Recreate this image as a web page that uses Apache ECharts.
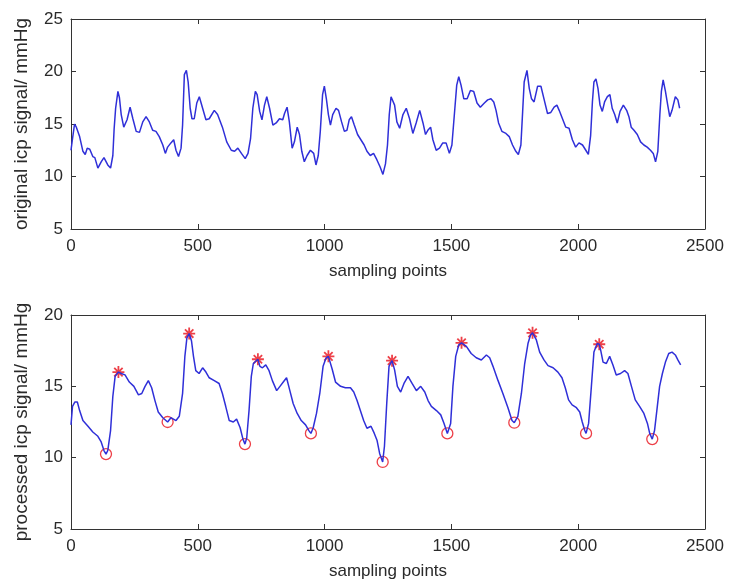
<!DOCTYPE html>
<html>
<head>
<meta charset="utf-8">
<script src="https://cdn.jsdelivr.net/npm/echarts@6/dist/echarts.min.js"></script>
<style>
  html, body { margin: 0; padding: 0; background: #fff; }
  #main { width: 729px; height: 587px; }
</style>
</head>
<body>
<div id="main"></div>
<script>
// original icp signal, [sampling point, mmHg]
var originalIcp = [
  [0,12.5],[6,13.6],[14,15.0],[21,14.7],[34,13.8],[47,12.4],[56,12.1],[64,12.7],[74,12.6],[86,11.9],
  [94,11.8],[106,10.8],[119,11.4],[130,11.8],[145,11.1],[156,10.8],[165,12.0],[170,14.5],[176,16.5],[185,18.1],
  [191,17.5],[198,15.9],[208,14.7],[221,15.4],[233,16.6],[244,15.5],[257,14.3],[270,14.2],[283,15.2],[296,15.7],
  [309,15.2],[322,14.4],[335,14.3],[348,13.8],[362,13.0],[372,12.2],[381,12.8],[394,13.2],[405,13.5],[414,12.5],
  [424,11.9],[434,12.7],[440,14.9],[447,19.7],[455,20.1],[462,19.0],[470,16.5],[477,15.5],[486,15.5],[496,17.0],
  [506,17.6],[519,16.5],[532,15.4],[545,15.5],[565,16.3],[578,15.9],[597,14.7],[614,13.3],[632,12.5],[645,12.4],
  [658,12.7],[672,12.2],[687,11.7],[698,12.2],[708,13.6],[717,16.5],[727,18.1],[734,17.8],[744,16.2],[753,15.4],
  [763,16.8],[772,17.6],[783,16.5],[796,14.9],[809,15.1],[822,15.5],[835,15.4],[842,16.0],[852,16.6],[861,15.2],
  [872,12.7],[881,13.3],[892,14.7],[901,14.0],[910,12.4],[920,11.4],[931,12.0],[944,12.5],[957,12.2],[966,11.1],
  [975,12.0],[983,14.3],[992,17.8],[999,18.6],[1007,17.4],[1015,15.9],[1023,14.9],[1032,15.9],[1045,16.5],[1055,16.3],
  [1067,15.2],[1078,14.3],[1088,14.4],[1097,15.4],[1106,15.7],[1117,14.9],[1130,14.0],[1143,13.5],[1156,13.0],[1167,12.4],
  [1180,12.0],[1193,12.2],[1206,11.6],[1219,10.9],[1230,10.2],[1240,11.2],[1248,13.0],[1255,15.9],[1262,17.6],[1268,17.6],
  [1276,16.8],[1285,15.2],[1296,14.6],[1309,15.9],[1322,16.5],[1335,15.5],[1348,14.1],[1361,15.1],[1375,16.3],[1388,15.1],
  [1398,14.0],[1407,14.4],[1418,14.7],[1427,13.5],[1440,12.5],[1453,12.7],[1466,13.2],[1479,13.2],[1492,12.2],[1502,13.0],
  [1512,16.0],[1521,18.7],[1529,19.5],[1538,18.7],[1549,17.4],[1562,17.4],[1575,18.2],[1588,18.1],[1601,17.0],[1614,16.6],
  [1630,17.0],[1643,17.3],[1656,17.4],[1667,17.1],[1676,16.3],[1686,15.1],[1699,14.3],[1715,14.1],[1728,13.8],[1741,13.0],
  [1754,12.4],[1764,12.1],[1774,13.0],[1781,16.2],[1787,19.0],[1798,20.1],[1807,18.4],[1816,17.4],[1826,17.1],[1840,18.6],
  [1853,18.6],[1866,17.3],[1879,16.0],[1892,16.1],[1905,16.6],[1916,16.8],[1925,16.3],[1938,15.5],[1951,14.7],[1964,14.6],
  [1977,13.5],[1990,12.8],[2003,13.2],[2017,13.0],[2030,12.5],[2040,12.1],[2049,13.9],[2056,17.1],[2062,19.0],[2070,19.3],
  [2078,18.4],[2086,16.8],[2095,16.2],[2104,17.1],[2115,17.6],[2125,17.8],[2134,16.5],[2144,15.9],[2154,15.1],[2165,16.2],
  [2178,16.8],[2191,16.3],[2200,15.7],[2209,14.7],[2220,14.4],[2233,14.0],[2246,13.3],[2259,13.0],[2272,12.8],[2285,12.5],
  [2296,12.2],[2305,11.4],[2314,12.4],[2322,15.9],[2328,18.1],[2335,19.2],[2344,18.1],[2353,16.8],[2361,15.7],[2370,16.3],
  [2383,17.6],[2393,17.3],[2400,16.5]
];

// processed (smoothed) icp signal, lower plot
var processedIcp = [
  [0,12.3],[6,13.6],[15,13.9],[25,13.9],[34,13.3],[47,12.6],[67,12.2],[86,11.8],[106,11.5],[119,11.1],
  [130,10.5],[138,10.25],[145,10.5],[156,11.9],[165,14.3],[174,15.7],[187,16.0],[198,15.9],[213,15.8],[230,15.3],
  [248,15.0],[266,14.4],[279,14.5],[292,15.0],[305,15.4],[318,14.9],[331,14.0],[344,13.2],[362,12.8],[381,12.5],
  [394,12.8],[414,12.6],[427,12.9],[440,14.5],[449,17.1],[457,18.4],[466,18.7],[475,18.2],[483,17.1],[492,16.1],
  [505,15.9],[519,16.3],[532,16.0],[545,15.6],[565,15.4],[584,15.2],[597,14.5],[610,13.6],[624,12.6],[640,12.5],
  [653,12.7],[667,12.1],[678,11.3],[686,10.95],[693,11.4],[702,13.3],[711,15.7],[719,16.6],[737,16.9],[745,16.4],
  [755,16.3],[768,16.5],[781,16.1],[794,15.4],[811,14.7],[824,15.0],[837,15.3],[850,15.6],[863,14.7],[876,13.8],
  [892,13.1],[908,12.6],[925,12.3],[938,11.9],[946,11.7],[955,12.1],[968,13.1],[981,14.5],[994,16.4],[1006,17.0],
  [1015,17.1],[1030,16.2],[1043,15.3],[1063,15.0],[1082,14.9],[1102,14.9],[1115,14.6],[1128,14.0],[1141,13.3],[1154,12.6],
  [1167,12.06],[1183,12.2],[1196,11.7],[1207,11.2],[1217,10.3],[1229,9.7],[1236,10.8],[1245,13.8],[1254,16.4],[1266,16.8],
  [1276,16.15],[1287,15.0],[1300,14.6],[1313,15.2],[1329,15.7],[1345,15.2],[1362,14.7],[1379,15.0],[1395,14.6],[1408,14.0],
  [1421,13.6],[1441,13.3],[1458,13.0],[1471,12.4],[1484,11.7],[1497,12.4],[1506,15.0],[1517,17.1],[1529,17.9],[1540,18.05],
  [1559,17.8],[1578,17.3],[1598,17.0],[1618,16.85],[1638,17.2],[1651,17.0],[1664,16.4],[1684,15.4],[1703,14.5],[1723,13.5],
  [1739,12.6],[1748,12.45],[1762,12.9],[1776,14.5],[1789,16.6],[1802,18.0],[1812,18.6],[1820,18.75],[1835,18.25],[1848,17.4],
  [1865,16.85],[1881,16.45],[1901,16.3],[1920,16.0],[1936,15.6],[1949,14.9],[1962,14.05],[1976,13.7],[1993,13.5],[2006,13.2],
  [2016,12.5],[2026,11.9],[2031,11.7],[2041,12.4],[2052,15.0],[2062,17.4],[2075,18.0],[2083,17.95],[2089,17.5],[2098,16.7],
  [2111,16.6],[2124,17.1],[2137,16.5],[2150,15.8],[2167,15.9],[2183,16.1],[2196,15.9],[2210,15.0],[2225,14.05],[2242,13.6],
  [2259,13.1],[2273,12.4],[2282,11.7],[2292,11.3],[2301,11.9],[2312,13.6],[2321,15.0],[2332,15.9],[2344,16.7],[2357,17.3],
  [2370,17.4],[2383,17.2],[2393,16.85],[2404,16.5]
];

// detected peaks (red *) and troughs (red o)
var peaks = [[187,16.0],[466,18.7],[737,16.9],[1015,17.1],[1266,16.8],[1540,18.05],[1820,18.75],[2083,17.95]];
var troughs = [[138,10.25],[381,12.5],[686,10.95],[946,11.7],[1229,9.7],[1484,11.7],[1748,12.45],[2031,11.7],[2292,11.3]];

var xTicks = {min: 0, max: 2500, interval: 500};
var yTicksTop = {min: 5, max: 25, interval: 5};
var yTicksBottom = {min: 5, max: 20, interval: 5};

var FONT = 'Liberation Sans';
var INK = '#333';

// one axis of the matlab-like box: main ones carry labels, mirror ones only ticks
function axis(dim, grid, pos, ticks, showLabel, name){
    var a = {
        type: 'value',
        gridIndex: grid,
        position: pos,
        min: ticks.min,
        max: ticks.max,
        interval: ticks.interval,
        splitLine: {show: false},
        axisLine: {show: true, onZero: false, lineStyle: {color: INK, width: 1}},
        axisTick: {show: true, inside: true, length: 5, lineStyle: {color: INK}},
        axisLabel: {
            show: showLabel,
            showMinLabel: true,
            showMaxLabel: true,
            color: '#2a2a2a',
            fontFamily: FONT,
            fontSize: 17,
            margin: dim == 'x' ? 9 : 8,
            formatter: function(v){ return String(v); }   // no thousands comma
        }
    };
    if (name) {
        a.name = name;
        a.nameLocation = 'middle';
        a.nameGap = dim == 'x' ? 34 : 40;
        a.nameTextStyle = {color: '#2a2a2a', fontFamily: FONT, fontSize: dim == 'x' ? 17 : 19};
    }
    return a;
}

var chart = echarts.init(document.getElementById('main'));
var option = {
    animation: false,
    backgroundColor: '#fff',
    grid: [
        {left: 71, top: 19, width: 634, height: 210},
        {left: 71, top: 315, width: 634, height: 214}
    ],
    xAxis: [
        axis('x', 0, 'bottom', xTicks, true, 'sampling points'),
        axis('x', 0, 'top', xTicks, false),
        axis('x', 1, 'bottom', xTicks, true, 'sampling points'),
        axis('x', 1, 'top', xTicks, false)
    ],
    yAxis: [
        axis('y', 0, 'left', yTicksTop, true, 'original icp signal/ mmHg'),
        axis('y', 0, 'right', yTicksTop, false),
        axis('y', 1, 'left', yTicksBottom, true, 'processed icp signal/ mmHg'),
        axis('y', 1, 'right', yTicksBottom, false)
    ],
    series: [
        {
            type: 'line',
            xAxisIndex: 0,
            yAxisIndex: 0,
            showSymbol: false,
            lineStyle: {color: '#2f2fd8', width: 1.5},
            data: originalIcp
        },
        {
            type: 'line',
            xAxisIndex: 2,
            yAxisIndex: 2,
            showSymbol: false,
            lineStyle: {color: '#2f2fd8', width: 1.5},
            data: processedIcp
        },
        {
            type: 'scatter',
            xAxisIndex: 2,
            yAxisIndex: 2,
            symbol: 'path://M5,0L5,10M0,5L10,5M1.5,1.5L8.5,8.5M1.5,8.5L8.5,1.5',
            symbolSize: 12,
            itemStyle: {color: '#e8101a', borderColor: '#e8101a', borderWidth: 1.8},
            data: peaks
        },
        {
            type: 'scatter',
            xAxisIndex: 2,
            yAxisIndex: 2,
            symbol: 'circle',
            symbolSize: 11,
            itemStyle: {color: 'rgba(0,0,0,0)', borderColor: '#e8101a', borderWidth: 1.3},
            data: troughs
        }
    ]
};
chart.setOption(option);
</script>
</body>
</html>
